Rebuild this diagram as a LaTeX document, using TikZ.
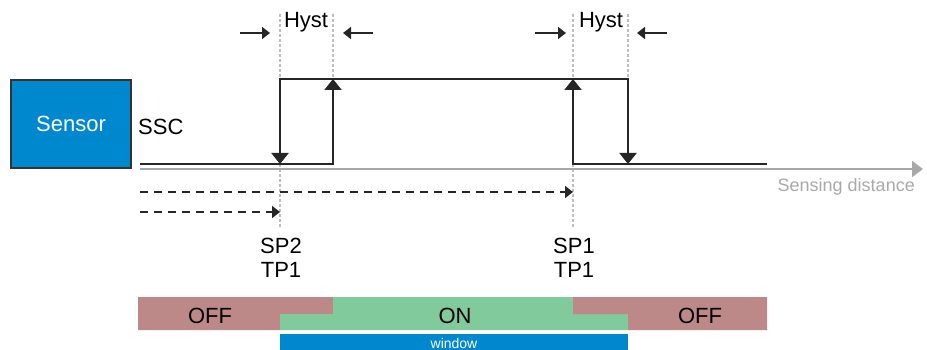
\documentclass[tikz,border=0pt]{standalone}
\usepackage{fontspec}
\setmainfont{Liberation Sans}
\usepackage{xcolor}
\usepackage{tikz}
\usetikzlibrary{positioning,arrows.meta}

\definecolor{sensorblue}{HTML}{0088CE}
\definecolor{offred}{HTML}{BD8988}
\definecolor{ongreen}{HTML}{80CA9C}
\definecolor{axisgray}{HTML}{A8A8A8}
\definecolor{guidegray}{HTML}{BDBDBD}

\begin{document}
\begin{tikzpicture}[x=1pt,y=-1pt,
  lbl/.style={font=\fontsize{22}{24}\selectfont, inner sep=0pt},
  sig/.style={line width=2pt, black!85},
  sigtip/.style={sig, -{Triangle[width=17pt,length=11pt]}},
  guide/.style={guidegray, line width=1.5pt, dash pattern=on 3pt off 2pt},
  dist/.style={line width=1.8pt, black!85, dash pattern=on 8pt off 6pt, -{Triangle[width=12pt,length=8pt]}},
  hyst/.style={line width=1.8pt, black!85, -{Triangle[width=12pt,length=8pt]}}]
\useasboundingbox (0,0) rectangle (927,350);
% Sensor
\node[lbl, draw=black!80, line width=1.5pt, fill=sensorblue, text=white, minimum width=120pt, minimum height=88pt] (sensor) at (71,124) {Sensor};
\node[lbl, anchor=base west] (ssc) at (138,135) {SSC};
% Points of the switching curve
\coordinate (start) at (140,164);
\coordinate (sp2top) at (280,79); \coordinate (sp2low) at (280,164);
\coordinate (h2top) at (333,79);  \coordinate (h2low) at (333,164);
\coordinate (sp1top) at (573,79); \coordinate (sp1low) at (573,164);
\coordinate (h1top) at (628,79);  \coordinate (h1low) at (628,164);
\coordinate (stop) at (767,164);
% Guide lines
\coordinate (g2) at (280,14); \coordinate (g2b) at (280,228);
\coordinate (g3) at (333,14);
\coordinate (g1) at (573,14); \coordinate (g1b) at (573,228);
\coordinate (g4) at (628,14);
\draw[guide] (g2) -- (g2b);
\draw[guide] (g3) -- (h2top);
\draw[guide] (g1) -- (g1b);
\draw[guide] (g4) -- (h1top);
% Axis
\coordinate (axA) at (140,169); \coordinate (axB) at (923,169);
\draw[axisgray, line width=2pt, -{Triangle[width=16pt,length=11pt]}] (axA) -- (axB);
\node[font=\fontsize{18}{20}\selectfont, text=axisgray, inner sep=0pt, anchor=base east] (dist) at (915,192) {Sensing distance};
% Switching curve
\draw[sigtip] (start) -- (h2low) -- (h2top);
\draw[sig, {Triangle[width=17pt,length=11pt]}-{Triangle[width=17pt,length=11pt]}] (sp2low) -- (sp2top) -- (h1top) -- (h1low);
\draw[sigtip] (stop) -- (sp1low) -- (sp1top);
% Hyst
\node[lbl, anchor=base] (hystA) at (306,28) {Hyst};
\node[lbl, anchor=base] (hystB) at (601,28) {Hyst};
\coordinate (a1) at (240,33); \coordinate (a2) at (270,33);
\coordinate (a3) at (373,33); \coordinate (a4) at (343,33);
\coordinate (a5) at (535,33); \coordinate (a6) at (566,33);
\coordinate (a7) at (667,33); \coordinate (a8) at (637,33);
\draw[hyst] (a1) -- (a2);
\draw[hyst] (a3) -- (a4);
\draw[hyst] (a5) -- (a6);
\draw[hyst] (a7) -- (a8);
% Dashed distances
\coordinate (d1) at (140,192); \coordinate (d1e) at (573,192);
\coordinate (d2) at (140,212); \coordinate (d2e) at (280,212);
\draw[dist] (d1) -- (d1e);
\draw[dist] (d2) -- (d2e);
% Point labels
\node[lbl, anchor=base] (sp2) at (281,253) {SP2};
\node[lbl, anchor=base] (tp2) at (281,277) {TP1};
\node[lbl, anchor=base] (sp1) at (574,253) {SP1};
\node[lbl, anchor=base] (tp1) at (574,277) {TP1};
% Output bars
\fill[offred] (138,297) -| (333,314) -| (280,330) -| cycle;
\fill[ongreen] (333,297) -| (573,314) -| (628,330) -| (280,314) -| cycle;
\fill[offred] (573,297) -| (767,330) -| (628,314) -| cycle;
\fill[sensorblue] (280,334) rectangle (628,352);
\node[lbl, anchor=base] (offL) at (210,323) {OFF};
\node[lbl, anchor=base] (on) at (455,323) {ON};
\node[lbl, anchor=base] (offR) at (700,323) {OFF};
\node[font=\fontsize{14}{16}\selectfont, text=white, inner sep=0pt, anchor=base] (win) at (454,348) {window};
\end{tikzpicture}
\end{document}
